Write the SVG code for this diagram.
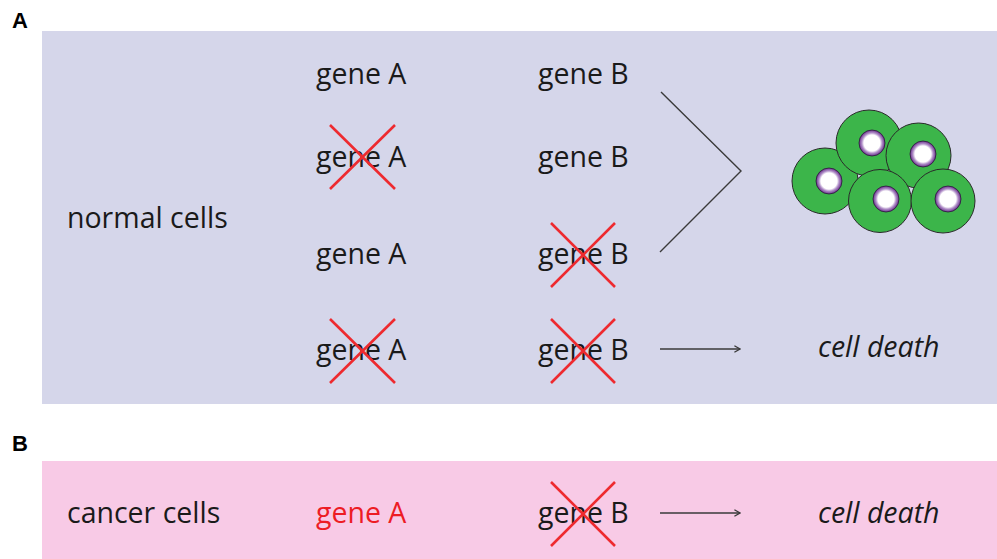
<svg xmlns="http://www.w3.org/2000/svg" width="997" height="559" viewBox="0 0 997 559">
  <defs>
    <style>
      .lbl { font-family: "Open Sans", "Noto Sans", sans-serif; font-size: 28.5px; fill: #1a1a1a; }
      .it { font-style: italic; }
      .red { fill: #ed1c24; }
      .panel { font-family: "Liberation Sans", Arial, sans-serif; font-weight: bold; font-size: 22px; fill: #000; }
      .cross { stroke: #ee2a2f; stroke-width: 2.6; fill: none; }
      .conn { stroke: #3a3a3a; stroke-width: 1.4; fill: none; }
      .cell { fill: #3cb54a; stroke: #2a2a2a; stroke-width: 1; }
      .nuc { fill: url(#nucGrad); stroke: #2a1a3a; stroke-width: 0.8; }
    </style>
    <radialGradient id="nucGrad" cx="0.5" cy="0.5" r="0.5">
      <stop offset="0" stop-color="#ffffff"/>
      <stop offset="0.62" stop-color="#ffffff"/>
      <stop offset="0.78" stop-color="#b08fc8"/>
      <stop offset="1" stop-color="#6a2f8c"/>
    </radialGradient>
    <marker id="openHead" viewBox="0 0 10 10" refX="9" refY="5" markerWidth="8" markerHeight="8" markerUnits="userSpaceOnUse" orient="auto">
      <path d="M2,1 L9,5 L2,9" fill="none" stroke="#3a3a3a" stroke-width="1.6"/>
    </marker>
  </defs>

  <rect width="997" height="559" fill="#ffffff"/>

  <!-- panel backgrounds -->
  <rect id="panelA" x="42" y="31" width="955" height="373" fill="#d5d6ea"/>
  <rect id="panelB" x="42" y="461" width="955" height="98" fill="#f8cae6"/>

  <text class="panel" x="12" y="28">A</text>
  <text class="panel" x="12" y="451">B</text>

  <!-- panel A -->
  <g id="normal-cells"><text class="lbl" x="67" y="228">normal cells</text></g>

  <g id="row1">
    <text class="lbl" x="316" y="84">gene A</text>
    <text class="lbl" x="538" y="84">gene B</text>
  </g>
  <g id="row2">
    <text class="lbl" x="316" y="167">gene A</text>
    <path class="cross" d="M330,125 L395,189 M395,125 L330,189"/>
    <text class="lbl" x="538" y="167">gene B</text>
  </g>
  <g id="row3">
    <text class="lbl" x="316" y="264">gene A</text>
    <text class="lbl" x="538" y="264">gene B</text>
    <path class="cross" d="M551,223 L615,287 M615,223 L551,287"/>
  </g>
  <g id="row4">
    <text class="lbl" x="316" y="360">gene A</text>
    <path class="cross" d="M330,319 L395,383 M395,319 L330,383"/>
    <text class="lbl" x="538" y="360">gene B</text>
    <path class="cross" d="M551,319 L615,383 M615,319 L551,383"/>
  </g>

  <!-- viable cell cluster -->
  <g id="cell-cluster">
    <circle class="cell" cx="825" cy="181" r="33"/>
    <circle class="nuc" cx="829" cy="181" r="13"/>
    <circle class="cell" cx="869" cy="143" r="33"/>
    <circle class="nuc" cx="872" cy="143" r="13"/>
    <circle class="cell" cx="918.5" cy="155.5" r="32.5"/>
    <circle class="nuc" cx="923" cy="154" r="13"/>
    <circle class="cell" cx="880" cy="201" r="31.5"/>
    <circle class="nuc" cx="886" cy="199" r="13"/>
    <circle class="cell" cx="943" cy="201" r="32"/>
    <circle class="nuc" cx="948" cy="199" r="13"/>
  </g>

  <g id="cell-death-A"><text class="lbl it" x="818" y="357">cell death</text></g>

  <!-- panel B -->
  <g id="cancer-cells"><text class="lbl" x="67" y="523">cancer cells</text></g>
  <g id="rowB">
    <text class="lbl red" x="316" y="523">gene A</text>
    <text class="lbl" x="538" y="523">gene B</text>
    <path class="cross" d="M551,482 L615,546 M615,482 L551,546"/>
  </g>
  <g id="cell-death-B"><text class="lbl it" x="818" y="523">cell death</text></g>

  <!-- connectors -->
  <g id="connectors">
    <path class="conn" d="M661,92 L741,171 L660,252"/>
    <line class="conn" x1="660" y1="349" x2="740" y2="349" marker-end="url(#openHead)"/>
    <line class="conn" x1="660" y1="513" x2="740" y2="513" marker-end="url(#openHead)"/>
  </g>
</svg>
